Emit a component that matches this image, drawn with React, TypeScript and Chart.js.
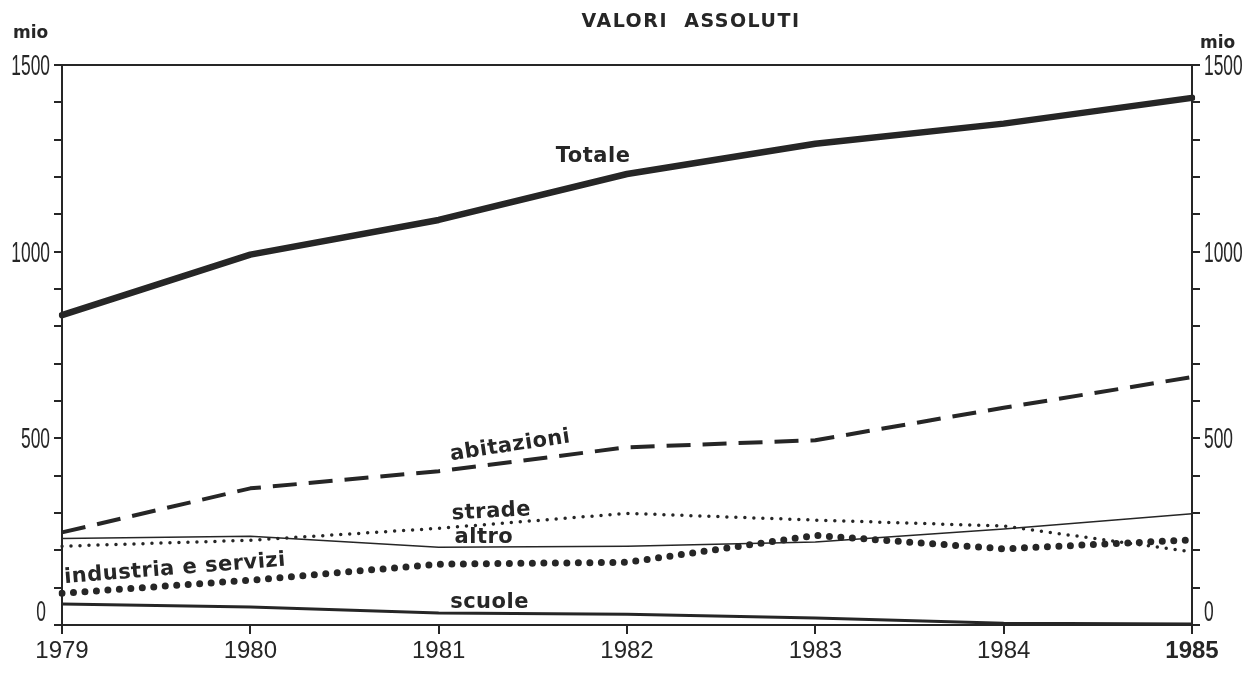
import React, { useEffect, useRef } from "react";
import { Chart, registerables } from "chart.js";

Chart.register(...registerables);

const years = ["1979", "1980", "1981", "1982", "1983", "1984", "1985"];
const totale = [830, 992, 1085, 1208, 1289, 1343, 1412];
const abitazioni = [248, 366, 412, 476, 495, 582, 664];
const strade = [211, 227, 259, 299, 281, 265, 196];
const altro = [232, 238, 208, 211, 222, 257, 298];
const industria = [85, 120, 163, 168, 240, 204, 228];
const scuole = [56, 48, 32, 29, 19, 5, 3];
const yMajorTicks = [0, 500, 1000, 1500];

// annotation anchors in data coordinates: [label, x index, value, rotation deg]
const lineLabels: [string, number, number, number][] = [
  ["Totale", 2.82, 1256, 0],
  ["abitazioni", 2.38, 480, -8.5],
  ["strade", 2.28, 303, -3],
  ["altro", 2.24, 233, 0],
  ["industria e servizi", 0.6, 150, -4.5],
  ["scuole", 2.27, 59, 0],
];

const INK = "#262626";

const decorPlugin = {
  id: "decor",
  afterDraw(chart: any) {
    const { ctx, chartArea, scales } = chart;
    const y = scales.y;
    const x = scales.x;
    ctx.save();
    // top border line
    ctx.strokeStyle = INK;
    ctx.lineWidth = 2;
    ctx.beginPath();
    ctx.moveTo(chartArea.left, chartArea.top);
    ctx.lineTo(chartArea.right, chartArea.top);
    ctx.stroke();

    ctx.fillStyle = INK;
    // title
    ctx.font = "bold 19px 'DejaVu Sans'";
    (ctx as any).letterSpacing = "1.5px";
    ctx.textAlign = "center";
    ctx.textBaseline = "middle";
    ctx.fillText("VALORI  ASSOLUTI", 691, 22);
    // mio
    ctx.font = "bold 17px 'DejaVu Sans'";
    (ctx as any).letterSpacing = "0px";
    ctx.textAlign = "left";
    ctx.fillText("mio", 13, 34);
    ctx.fillText("mio", 1200, 44);

    // y labels condensed
    ctx.font = "29px 'Liberation Sans'";
    for (const v of yMajorTicks) {
      const py = y.getPixelForValue(v);
      const baseY = v === 0 ? py - 4 : py + 10;
      ctx.save();
      ctx.translate(chartArea.left - (v === 0 ? 16 : 12), baseY);
      ctx.scale(0.6, 1);
      ctx.textAlign = "right";
      ctx.textBaseline = "alphabetic";
      ctx.fillText(String(v), 0, 0);
      ctx.restore();
      ctx.save();
      ctx.translate(chartArea.right + 12, baseY);
      ctx.scale(0.6, 1);
      ctx.textAlign = "left";
      ctx.textBaseline = "alphabetic";
      ctx.fillText(String(v), 0, 0);
      ctx.restore();
    }

    // line labels
    ctx.font = "bold 21px 'DejaVu Sans'";
    (ctx as any).letterSpacing = "0.5px";
    for (const [txt, xi, val, rot] of lineLabels) {
      const px = x.getPixelForValue(xi);
      const py = y.getPixelForValue(val);
      ctx.save();
      ctx.translate(px, py);
      ctx.rotate((rot * Math.PI) / 180);
      ctx.textAlign = "center";
      ctx.textBaseline = "middle";
      ctx.fillText(txt, 0, 0);
      ctx.restore();
    }
    ctx.restore();
  },
};

export default function App() {
  const ref = useRef<HTMLCanvasElement>(null);
  useEffect(() => {
    if (!ref.current) return;
    const mk = (data: number[], width: number, dash: number[], cap: any = "butt") => ({
      data,
      borderColor: INK,
      backgroundColor: INK,
      borderWidth: width,
      borderDash: dash,
      borderCapStyle: cap,
      borderJoinStyle: "round" as const,
      pointRadius: 0,
      tension: 0,
      fill: false,
      yAxisID: "y",
    });
    const chart = new Chart(ref.current, {
      type: "line",
      data: {
        labels: years,
        datasets: [
          { label: "Totale", ...mk(totale, 6.5, [], "round") },
          { label: "abitazioni", ...mk(abitazioni, 4, [24, 12]) },
          { label: "strade", ...mk(strade, 3.5, [0, 9], "round") },
          { label: "altro", ...mk(altro, 1.5, []) },
          { label: "industria e servizi", ...mk(industria, 7, [0, 11.5], "round") },
          { label: "scuole", ...mk(scuole, 3, []) },
        ],
      },
      options: {
        animation: false,
        responsive: true,
        maintainAspectRatio: false,
        layout: { padding: { top: 65, left: 0, right: 0, bottom: 0 } },
        plugins: { legend: { display: false }, tooltip: { enabled: false }, title: { display: false } },
        scales: {
          x: {
            type: "category",
            offset: false,
            grid: { drawOnChartArea: false, drawTicks: true, tickLength: 9, color: INK, lineWidth: 2 },
            border: { display: true, color: INK, width: 2 },
            ticks: {
              color: INK,
              padding: 3,
              maxRotation: 0,
              autoSkip: false,
              font: (c: any) => ({
                family: "'Liberation Sans'",
                size: 24,
                weight: c.index === 6 ? "bold" : "normal",
              }),
            },
            afterFit: (s: any) => {
              s.height = 50;
            },
          },
          y: {
            position: "left",
            min: 0,
            max: 1500,
            ticks: { stepSize: 100, display: false },
            grid: { drawOnChartArea: false, drawTicks: true, tickLength: 8, color: INK, lineWidth: 2 },
            border: { display: true, color: INK, width: 2 },
            afterFit: (s: any) => {
              s.width = 62;
            },
          },
          y2: {
            position: "right",
            min: 0,
            max: 1500,
            ticks: { stepSize: 100, display: false },
            grid: { drawOnChartArea: false, drawTicks: true, tickLength: 8, color: INK, lineWidth: 2 },
            border: { display: true, color: INK, width: 2 },
            afterFit: (s: any) => {
              s.width = 57;
            },
          },
        },
      },
      plugins: [decorPlugin],
    });
    return () => chart.destroy();
  }, []);
  return (
    <div style={{ position: "fixed", left: 0, top: 0, width: 1249, height: 675, background: "#fff" }}>
      <canvas ref={ref} />
    </div>
  );
}
